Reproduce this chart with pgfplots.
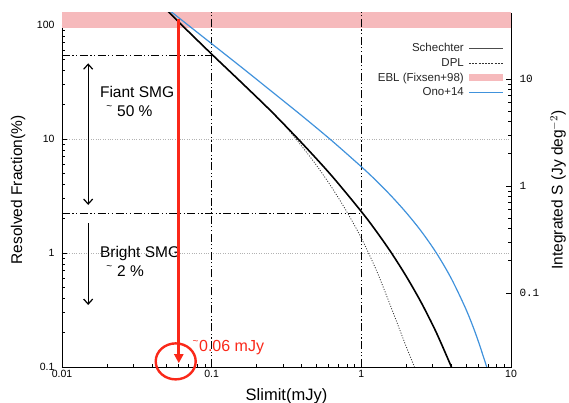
\documentclass[border=0pt]{standalone}
\usepackage{fontspec}
\setmainfont{Liberation Sans}
\setmonofont{Liberation Mono}
\usepackage{pgfplots}
\pgfplotsset{compat=1.18}
\usetikzlibrary{arrows.meta}

\definecolor{ebl}{RGB}{246,186,188}
\definecolor{ono}{RGB}{64,146,220}
\definecolor{hot}{RGB}{250,40,25}

\tikzset{
  refline/.style={black, line width=1.3pt,
    dash pattern=on 8pt off 2.5pt on 1.2pt off 2.5pt on 1.2pt off 2.5pt},
  dplline/.style={black!80, line width=0.8pt, dash pattern=on 1pt off 1.6pt},
}
\newcommand{\lbl}{\fontsize{15.5}{18}\selectfont}
\newcommand{\sm}{\raisebox{7pt}{\fontsize{10}{10}\selectfont\textasciitilde}}

\begin{document}
\begin{tikzpicture}[x=1pt,y=1pt]
\path[use as bounding box] (0,0) rectangle (569,403);

\begin{axis}[
  at={(62pt,36pt)}, anchor=south west,
  scale only axis, width=449pt, height=354pt,
  xmode=log, ymode=log,
  xmin=0.01, xmax=10, ymin=0.1, ymax=127.4,
  xtick={0.01,0.1,1,10}, xticklabels={0.01,0.1,1,10},
  ytick={0.1,1,10,100}, yticklabels={0.1,1,10,100},
  ytick pos=left, tick align=inside,
  major tick length=5pt, minor tick length=3pt,
  every tick/.style={black, line width=0.6pt},
  axis line style={line width=0.8pt},
  /pgf/number format/assume math mode=true,
  tick label style={font=\fontsize{10.5}{12}\selectfont},
  yticklabel style={xshift=-4pt},
  ymajorgrids, grid style={dotted, black!30, line width=0.6pt},
  xlabel={\fontsize{16.5}{19}\selectfont Slimit(mJy)},
  ylabel={\lbl Resolved Fraction(\%)},
  xlabel style={at={(axis description cs:0.5,-0.083)}, anchor=center},
  ylabel style={at={(axis description cs:-0.098,0.5)}, anchor=center},
  legend plot pos=right,
  legend cell align=right,
  legend image code/.code={\draw[#1] (0pt,0pt) -- (34pt,0pt);},
  legend style={at={(axis description cs:0.99,0.92)}, anchor=north east,
    draw=none, fill=none, inner sep=0pt, row sep=1pt,
    text=black!85, font=\fontsize{11.5}{13}\selectfont},
]

\addlegendimage{black!70, line width=0.9pt}
\addlegendentry{Schechter}
\addlegendimage{black!80, line width=0.8pt, dash pattern=on 2pt off 1.2pt}
\addlegendentry{DPL}
\addlegendimage{ebl, line width=6.5pt}
\addlegendentry{EBL (Fixsen+98)}
\addlegendimage{ono, line width=1pt}
\addlegendentry{Ono+14}

% EBL level (Fixsen+98)
\addplot[fill=ebl, draw=none, forget plot]
  coordinates {(0.01,95) (10,95) (10,200) (0.01,200)} -- cycle;

% flux limits and resolved fractions
\addplot[refline, forget plot] coordinates {(0.1,0.1) (0.1,200)};
\addplot[refline, forget plot] coordinates {(1,0.1) (1,200)};
\addplot[refline, forget plot] coordinates {(0.01,53.8) (0.1,53.8)};
\addplot[refline, forget plot] coordinates {(0.01,2.23) (1,2.23)};

% DPL
\addplot[dplline, smooth, forget plot] coordinates {
  (0.048,143.8) (0.0631,100) (0.1,55.5) (0.1585,31.2) (0.251,17.4)
  (0.316,12.6) (0.398,8.71) (0.501,5.89) (0.631,3.80) (0.794,2.34)
  (1,1.35) (1.259,0.708) (1.585,0.331) (1.995,0.151) (2.265,0.1)
  (2.3,0.095)};

% Schechter
\addplot[black, line width=1.6pt, smooth, forget plot] coordinates {
  (0.048,143.8) (0.0631,100) (0.1,55.5) (0.1585,31.2) (0.251,17.4)
  (0.398,9.30) (0.631,4.79) (1,2.31) (1.259,1.55) (1.585,1.006)
  (1.995,0.625) (2.512,0.368) (3.162,0.202) (3.981,0.1014) (4.07,0.094)};

% Ono+14
\addplot[ono, line width=1.2pt, smooth, forget plot] coordinates {
  (0.048,146.6) (0.0631,110.4) (0.1,68.5) (0.1585,42.5) (0.251,26.2)
  (0.398,16.1) (0.631,9.73) (1,5.71) (1.259,4.30) (1.585,3.16)
  (1.995,2.26) (2.512,1.553) (3.162,1.007) (3.981,0.601) (5.012,0.319)
  (5.888,0.186) (6.92,0.098)};

% faint / bright ranges
\addplot[black, line width=1.2pt, forget plot,
  {Straight Barb[length=5pt,width=9pt]}-{Straight Barb[length=5pt,width=9pt]}]
  coordinates {(0.01496,46.1) (0.01496,2.64)};
\addplot[black, line width=1.2pt, forget plot,
  -{Straight Barb[length=5pt,width=9pt]}]
  coordinates {(0.01496,1.83) (0.01496,0.35)};

\node[anchor=base west, inner sep=0pt, font=\lbl] at (axis cs:0.0179,22.9) {Fiant SMG};
\node[anchor=base west, inner sep=0pt, font=\lbl] at (axis cs:0.0197,15.6) {\sm};
\node[anchor=base west, inner sep=0pt, font=\lbl] at (axis cs:0.0233,15.6) {50 \%};
\node[anchor=base west, inner sep=0pt, font=\lbl] at (axis cs:0.0179,0.904) {Bright SMG};
\node[anchor=base west, inner sep=0pt, font=\lbl] at (axis cs:0.0197,0.616) {\sm};
\node[anchor=base west, inner sep=0pt, font=\lbl] at (axis cs:0.0233,0.616) {2 \%};

% 0.06 mJy limit
\addplot[hot, line width=3pt, forget plot,
  -{Triangle[width=9pt,length=9pt]}]
  coordinates {(0.0603,113) (0.0603,0.108)};
\node[anchor=base west, inner sep=0pt, text=hot, font=\fontsize{16}{18}\selectfont]
  at (axis cs:0.0745,0.138) {\sm};
\node[anchor=base west, inner sep=0pt, text=hot, font=\fontsize{16}{18}\selectfont]
  at (axis cs:0.0822,0.138) {0.06 mJy};
\coordinate (circ) at (axis cs:0.0575,0.112);
\end{axis}

\draw[hot, line width=2.4pt] (circ) ellipse [x radius=20pt, y radius=18pt];

\begin{axis}[
  at={(62pt,36pt)}, anchor=south west,
  scale only axis, width=449pt, height=354pt,
  xmode=log, ymode=log,
  xmin=0.01, xmax=10, ymin=0.0203, ymax=41.4,
  axis x line=none, axis y line*=right,
  axis line style={line width=0.8pt},
  ytick={0.1,1,10}, yticklabels={\texttt{0.1},\texttt{1},\texttt{10}},
  tick align=inside,
  major tick length=5pt, minor tick length=3pt,
  every tick/.style={black, line width=0.6pt},
  tick label style={font=\fontsize{11}{13}\selectfont},
  yticklabel style={xshift=5pt},
  ylabel={\lbl Integrated S (Jy deg$^{-2}$)},
  ylabel style={at={(axis description cs:1.105,0.5)}, anchor=center},
]
\addplot[draw=none] coordinates {(1,1)};
\end{axis}
\end{tikzpicture}
\end{document}
